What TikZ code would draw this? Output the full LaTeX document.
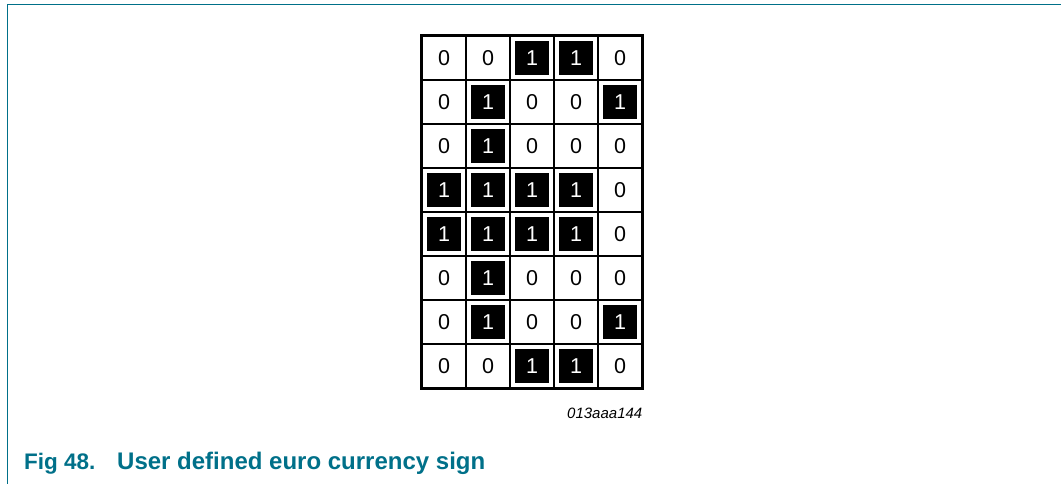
\documentclass[tikz,border=0pt]{standalone}
\usepackage{fontspec}
\setmainfont{Liberation Sans}
\definecolor{nxpteal}{RGB}{0,112,137}
\begin{document}
\begin{tikzpicture}[x=1pt,y=-1pt]
        \tikzset{cell/.style={draw, line width=1.1pt, minimum size=44pt, inner sep=0pt, font=\fontsize{21.5}{24}\selectfont},
                 dot/.style={fill=black, text=white, minimum size=34pt, inner sep=0pt, font=\fontsize{21.5}{24}\selectfont}}
        \useasboundingbox (0,0) rectangle (1061,484);
        % frame
        \draw[nxpteal, line width=1.4pt] (7.3,484) -- (7.3,4.5) -- (1061,4.5);
        % bit pattern of the euro sign
        \foreach \row [count=\r] in {{0,0,1,1,0},{0,1,0,0,1},{0,1,0,0,0},{1,1,1,1,0},{1,1,1,1,0},{0,1,0,0,0},{0,1,0,0,1},{0,0,1,1,0}} {
            \foreach \v [count=\c] in \row {
                \ifnum\v=1
                    \node[cell] (c-\r-\c) at (400+44*\c,14+44*\r) {};
                    \node[dot] (d-\r-\c) at (c-\r-\c) {1};
                \else
                    \node[cell] (c-\r-\c) at (400+44*\c,14+44*\r) {0};
                \fi
            }
        }
        \draw[line width=2.3pt] (c-1-1.north west) rectangle (c-8-5.south east);
        \node[anchor=base east, inner sep=0pt, font=\fontsize{15}{17}\selectfont\itshape] (code) at (642.5,418.5) {013aaa144};
        % caption
        \node[anchor=base west, inner sep=0pt, text=nxpteal, font=\fontsize{22.5}{27}\selectfont\bfseries] (fig) at (24,469.5) {Fig 48.};
        \node[anchor=base west, inner sep=0pt, text=nxpteal, font=\fontsize{24}{27}\selectfont\bfseries] (title) at (117,469.5) {User defined euro currency sign};
\end{tikzpicture}
\end{document}
